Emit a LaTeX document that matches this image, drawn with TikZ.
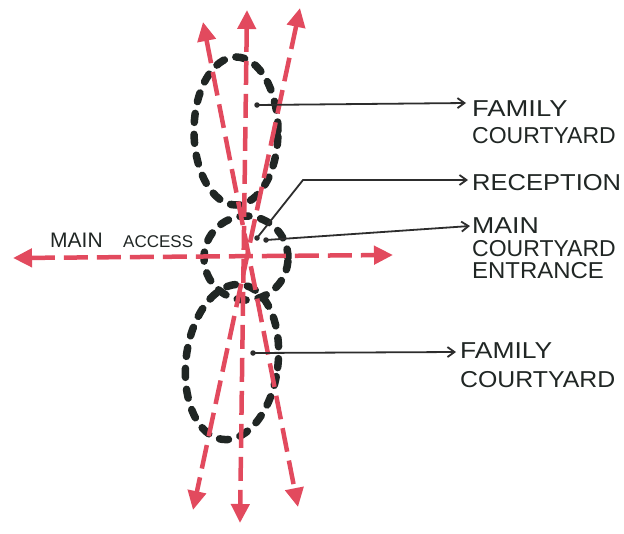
\documentclass[tikz,border=0pt]{standalone}
\usepackage{fontspec}
\setmainfont{Liberation Sans}
\usetikzlibrary{arrows.meta}
\definecolor{sketchred}{RGB}{226,74,94}
\definecolor{ink}{RGB}{32,38,36}
\definecolor{leaderink}{RGB}{45,45,45}
\newcommand{\wide}[2]{\scalebox{#1}[1]{#2}}
\begin{document}
\begin{tikzpicture}[x=1pt,y=-1pt,
  blob/.style={draw=ink, line width=7.5pt, line cap=round, dash pattern=on 9pt off 12pt},
  axis/.style={draw=sketchred, line width=4.5pt, dash pattern=on 24pt off 9pt,
     {Triangle[length=19pt,width=18pt]}-{Triangle[length=19pt,width=18pt]}},
  leader/.style={draw=leaderink, line width=1.8pt, -{Straight Barb[length=7pt,width=10pt]}},
  dotstart/.style={circle, fill=leaderink, inner sep=0pt, minimum size=5.5pt},
  lbl/.style={anchor=base west, inner sep=0pt, text=ink, font=\fontsize{23}{26}\selectfont},
  lblleft/.style={anchor=base west, inner sep=0pt, text=ink, font=\fontsize{21}{24}\selectfont},
  lblsmall/.style={anchor=base west, inner sep=0pt, text=ink, font=\fontsize{17}{20}\selectfont}
]
\useasboundingbox (0,0) rectangle (624,533);
\fill[white] (0,0) rectangle (624,533);

% axis end points
\coordinate (tl) at (203,22);  \coordinate (br) at (298,507);
\coordinate (tm) at (247,10);  \coordinate (bm) at (240,523);
\coordinate (tr) at (300,8);   \coordinate (bl) at (193,510);
\coordinate (wl) at (13,258);  \coordinate (er) at (393,255);

% courtyards (dashed outlines)
\draw[blob] (236,131) ellipse [x radius=42pt, y radius=74pt];
\draw[blob] (246,258) ellipse [x radius=42pt, y radius=42pt];
\draw[blob, rotate around={-7:(232,362)}] (232,362) ellipse [x radius=46pt, y radius=78pt];

% red movement axes
\draw[axis] (tl) -- (br);
\draw[axis] (tm) -- (bm);
\draw[axis] (tr) -- (bl);
\draw[axis] (wl) -- (er);

% labels
\node[lbl] (fam1a) at (472,116) {\wide{1.19}{FAMILY}};
\node[lbl] (fam1b) at (472,143) {COURTYARD};
\node[lbl] (recep) at (472,190) {\wide{1.11}{RECEPTION}};
\node[lbl] (mce1) at (472,233) {\wide{1.16}{MAIN}};
\node[lbl] (mce2) at (472,256) {COURTYARD};
\node[lbl] (mce3) at (472,278) {\wide{1.04}{ENTRANCE}};
\node[lbl] (fam2a) at (460,358) {\wide{1.15}{FAMILY}};
\node[lbl] (fam2b) at (460,387) {\wide{1.08}{COURTYARD}};
\node[lblleft] (macc1) at (50,247) {MAIN};
\node[lblsmall] (macc2) at (123,247) {ACCESS};

% leader lines
\node[dotstart] (s1) at (257,105) {};
\node[dotstart] (s2) at (257,238) {};
\node[dotstart] (s3) at (266,240) {};
\node[dotstart] (s4) at (253,353) {};
\coordinate (k2) at (303,180);
\coordinate (e1) at (466,103);
\coordinate (e2) at (468,180);
\coordinate (e3) at (470,226);
\coordinate (e4) at (456,352);
\draw[leader] (s1.center) -- (e1);
\draw[leader] (s2.center) -- (k2) -- (e2);
\draw[leader] (s3.center) -- (e3);
\draw[leader] (s4.center) -- (e4);
\end{tikzpicture}
\end{document}
